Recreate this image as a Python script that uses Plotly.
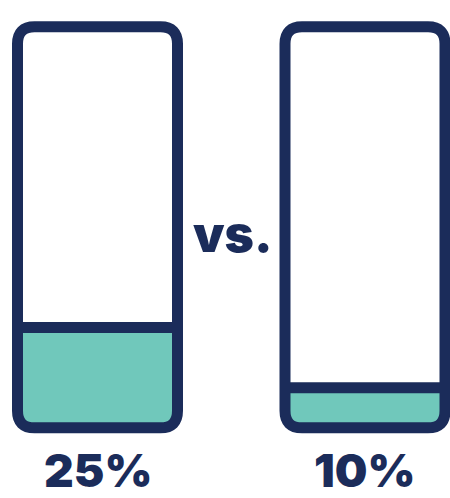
import plotly.graph_objects as go

# ---- data ----
categories = ["A", "B"]
values = [25, 10]          # percent filled
labels = ["25%", "10%"]
middle_text = "vs."

# ---- style ----
NAVY = "#1b2c5a"
TEAL = "#70c8bb"
W, H = 450, 498
STROKE = 11
FONT = "Inter"

# pixel geometry of the layout (for axis ranges)
PX_PER_UNIT_Y = 4.01        # px per percent
Y0_PX = 427.8               # pixel row of 0%
CENTER0_PX = 97.5           # pixel column of first bar center
GAP_PX = 267.5              # pixel distance between bar centers
HALF_W_PX = 80.0            # half width of bar (stroke centerline)
RADIUS_PX = 17.0            # corner radius on stroke centerline

yr = [(Y0_PX - H) / PX_PER_UNIT_Y, Y0_PX / PX_PER_UNIT_Y]
xr = [(0 - CENTER0_PX) / GAP_PX, (W - CENTER0_PX) / GAP_PX]

hw = HALF_W_PX / GAP_PX
rx = RADIUS_PX / GAP_PX
ry = RADIUS_PX / PX_PER_UNIT_Y
TOP = 100

fig = go.Figure()

shapes = []
for i, v in enumerate(values):
    L, R = i - hw, i + hw
    fill_path = (f"M {L},{v} L {R},{v} L {R},{ry} Q {R},0 {R-rx},0 "
                 f"L {L+rx},0 Q {L},0 {L},{ry} Z")
    shapes.append(dict(type="path", path=fill_path, xref="x", yref="y",
                       fillcolor=TEAL, line=dict(width=0), layer="above"))
    shapes.append(dict(type="line", x0=L, x1=R, y0=v, y1=v, xref="x", yref="y",
                       line=dict(color=NAVY, width=STROKE), layer="above"))
    outline = (f"M {L+rx},{TOP} L {R-rx},{TOP} Q {R},{TOP} {R},{TOP-ry} "
               f"L {R},{ry} Q {R},0 {R-rx},0 L {L+rx},0 Q {L},0 {L},{ry} "
               f"L {L},{TOP-ry} Q {L},{TOP} {L+rx},{TOP} Z")
    shapes.append(dict(type="path", path=outline, xref="x", yref="y",
                       fillcolor="rgba(0,0,0,0)",
                       line=dict(color=NAVY, width=STROKE), layer="above"))

fig.add_trace(go.Scatter(x=list(range(len(categories))), y=values, mode="markers",
                         marker=dict(opacity=0), hoverinfo="skip", showlegend=False))

annotations = []
for i, lab in enumerate(labels):
    annotations.append(dict(x=i, y=(Y0_PX - 469.5) / PX_PER_UNIT_Y, xref="x", yref="y",
                            text=lab, showarrow=False, xanchor="center", yanchor="middle",
                            font=dict(family=FONT, size=46, color=NAVY, weight=900)))
annotations.append(dict(x=(232.5 - CENTER0_PX) / GAP_PX, y=(Y0_PX - 234) / PX_PER_UNIT_Y,
                        xref="x", yref="y", text=middle_text, showarrow=False,
                        xanchor="center", yanchor="middle",
                        font=dict(family=FONT, size=50, color=NAVY, weight=900)))

fig.update_layout(
    width=W, height=H, margin=dict(l=0, r=0, t=0, b=0),
    paper_bgcolor="white", plot_bgcolor="white",
    xaxis=dict(range=xr, visible=False, fixedrange=True),
    yaxis=dict(range=yr, visible=False, fixedrange=True),
    shapes=shapes, annotations=annotations, showlegend=False,
)

fig.write_html("out.html")
